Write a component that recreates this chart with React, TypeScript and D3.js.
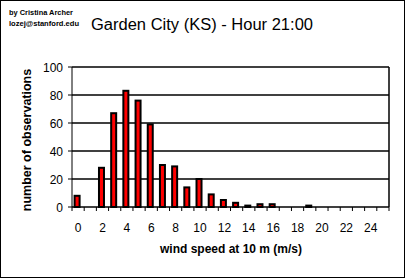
import React from "react";
import * as d3 from "d3";

const categories: number[] = d3.range(0, 26);
const counts: number[] = [8, 0, 28, 67, 83, 76, 59, 30, 29, 14, 20, 9, 5, 3, 1, 2, 2, 0, 0, 1, 0, 0, 0, 0, 0, 0];
const yTicks: number[] = [0, 20, 40, 60, 80, 100];
const xTickLabels: number[] = [0, 2, 4, 6, 8, 10, 12, 14, 16, 18, 20, 22, 24];

const W = 405;
const H = 278;
const left = 72;
const right = 389;
const top = 67;
const bottom = 207;

export default function App() {
  const x = d3.scaleBand<number>().domain(categories).range([left, right]).paddingInner(0).paddingOuter(0);
  const y = d3.scaleLinear().domain([0, 100]).range([bottom, top]);
  const bw = x.bandwidth();
  const barW = 5;
  const font = "Liberation Sans, Arial, sans-serif";

  return (
    <svg width={W} height={H} style={{ position: "absolute", left: 0, top: 0 }} fontFamily={font}>
      <rect x={0.5} y={0.5} width={W - 1} height={H - 1} fill="white" stroke="black" strokeWidth={1} />
      <text x={9} y={15} fontSize={8} fontWeight="bold" textLength={64} lengthAdjust="spacingAndGlyphs">by Cristina Archer</text>
      <text x={9} y={26} fontSize={8} fontWeight="bold" textLength={70} lengthAdjust="spacingAndGlyphs">lozej@stanford.edu</text>
      <text x={91} y={30} fontSize={16} textLength={222} lengthAdjust="spacingAndGlyphs">Garden City (KS) - Hour 21:00</text>

      {yTicks.map((t) => (
        <g key={t}>
          {t > 0 && <line x1={left} x2={right} y1={y(t)} y2={y(t)} stroke="black" strokeWidth={1.5} />}
          <line x1={left - 4} x2={left} y1={y(t)} y2={y(t)} stroke="black" strokeWidth={1} />
          <text x={63} y={y(t) + 4.5} fontSize={12} textAnchor="end">{t}</text>
        </g>
      ))}
      <line x1={right} x2={right} y1={top} y2={bottom} stroke="black" strokeWidth={1.5} />

      {categories.map((c, i) =>
        counts[i] > 0 ? (
          <rect
            key={c}
            x={(x(c) as number) + bw / 2 - barW / 2 - 1}
            y={y(counts[i])}
            width={barW}
            height={bottom - y(counts[i])}
            fill="#ff0000"
            stroke="black"
            strokeWidth={2}
          />
        ) : null
      )}

      <line x1={left} x2={left} y1={top} y2={bottom} stroke="black" strokeWidth={1} />
      <line x1={left} x2={right} y1={bottom} y2={bottom} stroke="black" strokeWidth={1.5} />
      {categories.concat([26]).map((c) => {
        const xx = c < 26 ? (x(c) as number) : right;
        return <line key={"t" + c} x1={xx} x2={xx} y1={bottom} y2={bottom + 4} stroke="black" strokeWidth={1} />;
      })}
      {xTickLabels.map((t) => (
        <text key={"l" + t} x={(x(t) as number) + bw / 2} y={232} fontSize={12} textAnchor="middle">{t}</text>
      ))}

      <text x={231} y={253} fontSize={12} fontWeight="bold" textAnchor="middle">wind speed at 10 m (m/s)</text>
      <text transform={`translate(31,140) rotate(-90)`} fontSize={12.5} fontWeight="bold" textAnchor="middle">number of observations</text>
    </svg>
  );
}
